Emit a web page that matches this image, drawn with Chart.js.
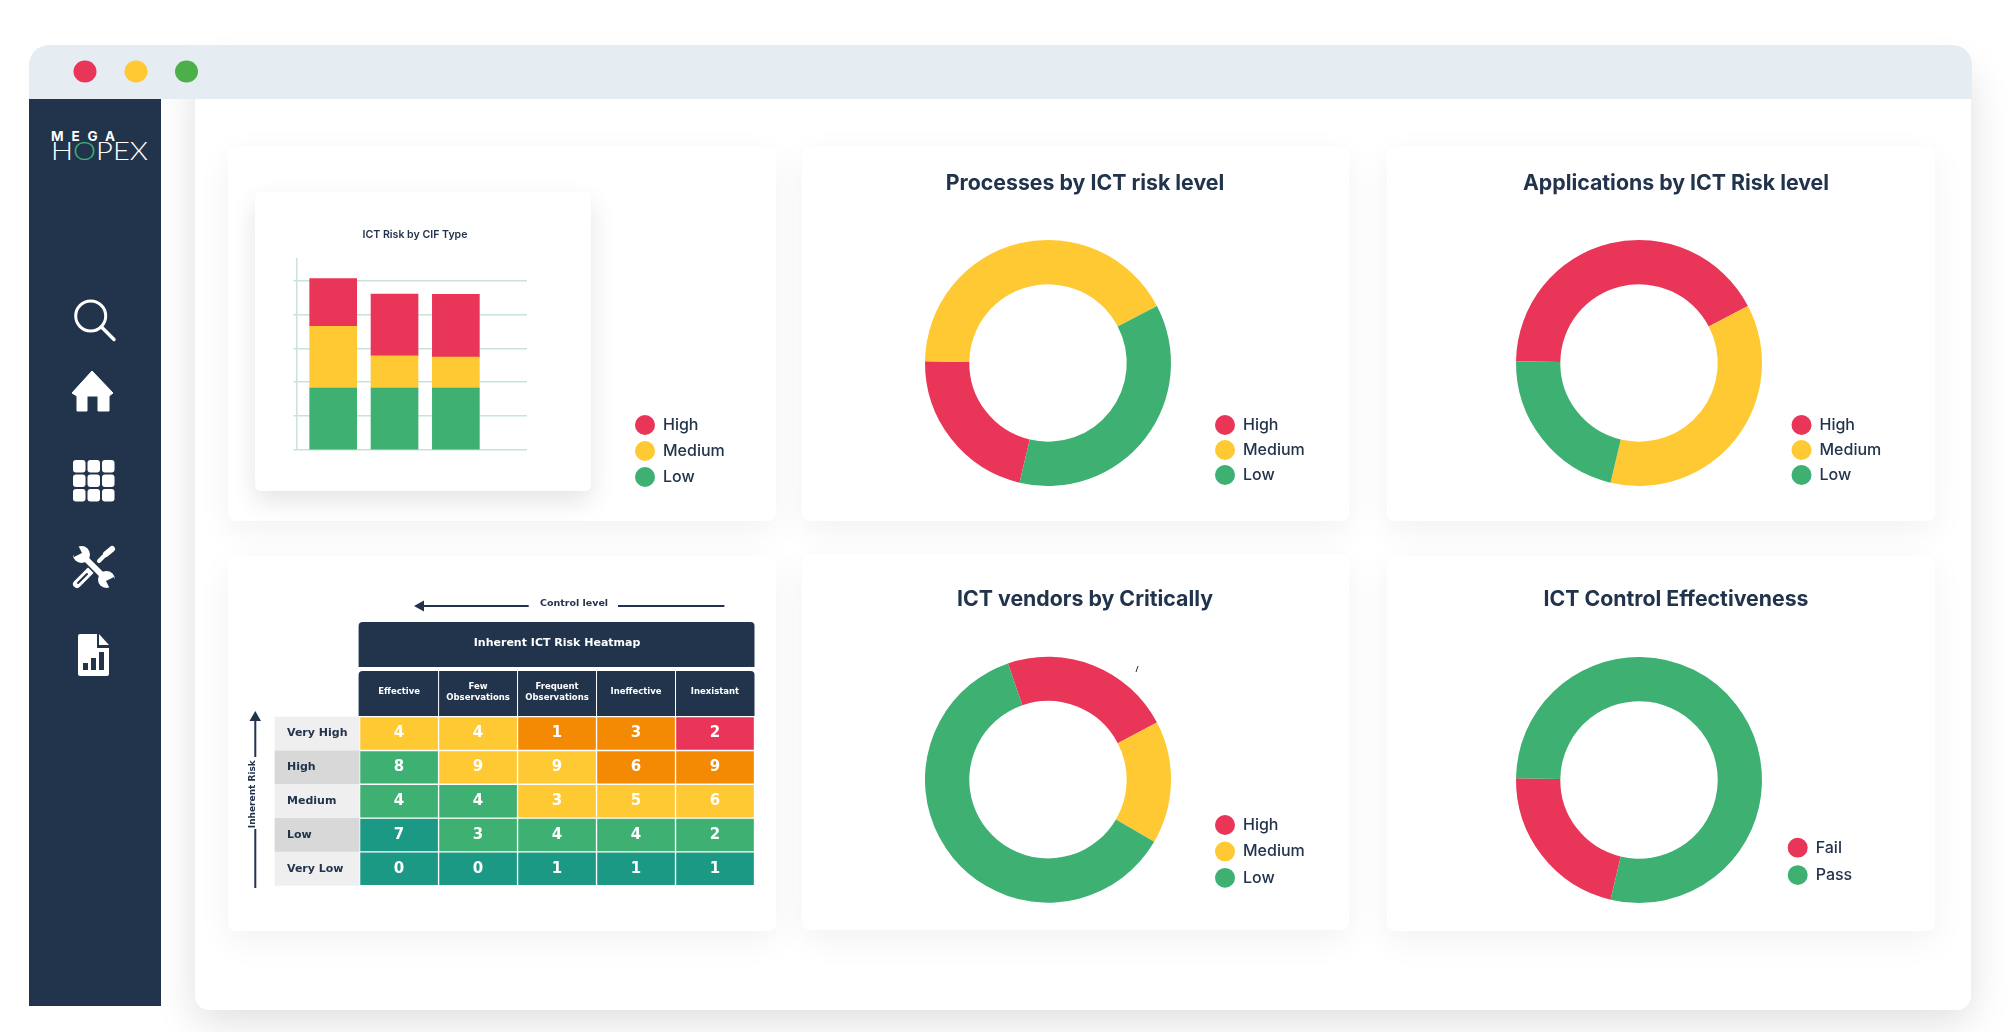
<!DOCTYPE html>
<html>
<head>
<meta charset="utf-8">
<title>ICT risk dashboard</title>
<script src="https://cdn.jsdelivr.net/npm/chart.js@4/dist/chart.umd.min.js"></script>
<style>
html,body{margin:0;padding:0;background:#fff;width:2007px;height:1032px;overflow:hidden;font-family:Inter,sans-serif}
.box{position:absolute;box-sizing:border-box}
#panel{left:195px;top:60px;width:1776px;height:950px;background:#fff;border-radius:14px;box-shadow:0 12px 40px rgba(0,0,0,.13)}
#bar{left:29px;top:45px;width:1943px;height:54px;background:#e5ecf2;border-radius:20px 20px 0 0}
#side{left:29px;top:99px;width:132px;height:907px;background:#22344c}
.card{background:#fff;border-radius:8px;box-shadow:0 10px 34px rgba(0,0,0,.055)}
#inner{left:255px;top:192px;width:336px;height:299px;border-radius:6px;background:#fff;box-shadow:0 10px 26px rgba(0,0,0,.11)}
canvas{position:absolute}
svg{position:absolute;left:0;top:0}
</style>
</head>
<body>
<div class="box" id="panel"></div>
<div class="box" id="bar"></div>
<div class="box" id="side"></div>
<div class="box card" style="left:228px;top:146px;width:548px;height:375px"></div>
<div class="box card" style="left:802px;top:146px;width:547px;height:375px"></div>
<div class="box card" style="left:1387px;top:146px;width:548px;height:375px"></div>
<div class="box card" style="left:228px;top:556px;width:548px;height:375px"></div>
<div class="box card" style="left:802px;top:554px;width:547px;height:376px"></div>
<div class="box card" style="left:1387px;top:556px;width:548px;height:375px"></div>
<div class="box" id="inner"></div>

<svg width="2007" height="1032" viewBox="0 0 2007 1032" style="z-index:3">
  <ellipse cx="85" cy="71.5" rx="11.5" ry="11" fill="#e93557"/>
  <ellipse cx="136" cy="71.5" rx="11.5" ry="11" fill="#ffc933"/>
  <ellipse cx="186.500" cy="71.5" rx="11.5" ry="11" fill="#4bb04a"/>
  <text x="51" y="140.500" fill="#fff" font-family="Inter" font-weight="700" font-size="13.500" textLength="64">MEGA</text>
  <text x="51" y="160" fill="#fff" font-family="Lato" font-weight="300" font-size="25" textLength="97" lengthAdjust="spacingAndGlyphs">H<tspan fill="#3db072">O</tspan>PEX</text>
  <circle cx="90.700" cy="316" r="15" fill="none" stroke="#fff" stroke-width="3"/>
  <line x1="101.500" y1="327" x2="114" y2="339.500" stroke="#fff" stroke-width="3.500" stroke-linecap="round"/>
  <path d="M92 371 L113 393 L109 396 V411 H98 V396 H87 V411 H77 V396 L72 393 Z" fill="#fff" stroke="#fff" stroke-linejoin="round" stroke-width="1"/>
  <g fill="#fff">
    <rect x="73" y="460" width="12.500" height="12.500" rx="3"/><rect x="87.500" y="460" width="12.500" height="12.500" rx="3"/><rect x="102" y="460" width="12.500" height="12.500" rx="3"/>
    <rect x="73" y="474.500" width="12.500" height="12.500" rx="3"/><rect x="87.500" y="474.500" width="12.500" height="12.500" rx="3"/><rect x="102" y="474.500" width="12.500" height="12.500" rx="3"/>
    <rect x="73" y="489" width="12.500" height="12.500" rx="3"/><rect x="87.500" y="489" width="12.500" height="12.500" rx="3"/><rect x="102" y="489" width="12.500" height="12.500" rx="3"/>
  </g>
  <g stroke-linecap="round" fill="none">
    <line x1="77" y1="584" x2="90" y2="571" stroke="#fff" stroke-width="8"/>
    <line x1="78" y1="583" x2="87" y2="574" stroke="#22344c" stroke-width="2"/>
    <line x1="99" y1="561" x2="106" y2="554" stroke="#fff" stroke-width="4"/>
    <line x1="106" y1="554" x2="112" y2="549" stroke="#fff" stroke-width="6"/>
    <line x1="84" y1="557" x2="104" y2="577" stroke="#22344c" stroke-width="9"/>
    <line x1="84" y1="557" x2="104" y2="577" stroke="#fff" stroke-width="6"/>
  </g>
  <circle cx="81.500" cy="554.500" r="8.500" fill="#fff"/>
  <circle cx="106.500" cy="579.500" r="8.500" fill="#fff"/>
  <path d="M78 545 L82 553 L74 557 L70 547 Z" fill="#22344c"/>
  <path d="M110 589 L106 581 L114 577 L118 587 Z" fill="#22344c"/>
  <path d="M80 634 H97 V648 H109 V674 Q109 676 107 676 H80 Q78 676 78 674 V636 Q78 634 80 634 Z" fill="#fff"/>
  <path d="M99 634 L109 645 H99 Z" fill="#fff"/>
  <g fill="#22344c"><rect x="83" y="663" width="5" height="7"/><rect x="91" y="658" width="5" height="12"/><rect x="99" y="652" width="5" height="18"/></g>
  <line x1="1136" y1="672" x2="1138" y2="666" stroke="#22344c" stroke-width="1"/>
  <g stroke="#22344c" stroke-width="2" fill="#22344c">
    <line x1="418" y1="606" x2="528.700" y2="606"/>
    <path d="M414 606 L424 600.500 V611.500 Z" stroke="none"/>
    <line x1="618" y1="606" x2="724.400" y2="606"/>
    <line x1="255.300" y1="716" x2="255.300" y2="757"/>
    <line x1="255.300" y1="829" x2="255.300" y2="888"/>
    <path d="M255.300 711 L249.500 721 H261 Z" stroke="none"/>
  </g>
</svg>

<canvas id="c1" width="470" height="299" style="left:255px;top:192px;z-index:4"></canvas>
<canvas id="c2" width="547" height="375" style="left:802px;top:146px;z-index:4"></canvas>
<canvas id="c3" width="548" height="375" style="left:1387px;top:146px;z-index:4"></canvas>
<canvas id="c4" width="548" height="340" style="left:228px;top:560px;z-index:4"></canvas>
<canvas id="c5" width="547" height="375" style="left:802px;top:554px;z-index:4"></canvas>
<canvas id="c6" width="548" height="375" style="left:1387px;top:556px;z-index:4"></canvas>

<script>
// ---- data ----
const riskLabels = ['High', 'Medium', 'Low'];
const passLabels = ['Fail', 'Pass'];

const barPositions = [1, 2, 3];
const barLow = [1.83, 1.83, 1.83];
const barMedium = [1.82, 0.95, 0.91];
const barHigh = [1.41, 1.82, 1.85];

const processes = [21.5, 42.1, 36.4];
const applications = [42.1, 36.4, 21.5];
const vendors = [22.6, 16.1, 61.3];
const controls = [21.5, 78.5];

const heatColumns = ['Effective', ['Few', 'Observations'], ['Frequent', 'Observations'], 'Ineffective', 'Inexistant'];
const heatRows = ['Very High', 'High', 'Medium', 'Low', 'Very Low'];
const countsVeryHigh = [4, 4, 1, 3, 2];
const countsHigh = [8, 9, 9, 6, 9];
const countsMedium = [4, 4, 3, 5, 6];
const countsLow = [7, 3, 4, 4, 2];
const countsVeryLow = [0, 0, 1, 1, 1];
const levelsVeryHigh = ['Y', 'Y', 'O', 'O', 'R'];
const levelsHigh = ['G', 'Y', 'Y', 'O', 'O'];
const levelsMedium = ['G', 'G', 'Y', 'Y', 'Y'];
const levelsLow = ['T', 'G', 'G', 'G', 'G'];
const levelsVeryLow = ['T', 'T', 'T', 'T', 'T'];

// ---- style ----
const RED = '#e93557', YEL = '#ffc933', GRN = '#3db072', ORG = '#f48a04', TEAL = '#1c9985', NAVY = '#22344c';
const levelColor = {R: RED, Y: YEL, G: GRN, O: ORG, T: TEAL};
const heatFont = '"DejaVu Sans"';
Chart.defaults.font.family = 'Inter';
Chart.defaults.devicePixelRatio = 1;

// moves the library's own legend and title to their places on the page
const placePlugin = {
  id: 'place',
  afterLayout(chart, args, o) {
    const ox = chart.canvas.offsetLeft, oy = chart.canvas.offsetTop;
    const l = chart.legend;
    if (l && o.cx) {
      const pad = l.options.labels.padding;
      l.left = o.cx - ox - 10 - pad;
      l.top = o.cy - oy - 8 - pad;
      l.right = l.left + 120;
      l.bottom = l.top + 140;
    }
    const t = chart.titleBlock;
    if (t && o.titleX) {
      t.left = o.titleX - ox - 200;
      t.right = o.titleX - ox + 200;
    }
  }
};

function legendOptions(padding, reverse) {
  return {
    position: 'chartArea', align: 'start', reverse: !!reverse,
    labels: {usePointStyle: true, pointStyle: 'circle', boxHeight: 14, boxWidth: 14, pointStyleWidth: 20, padding,
      color: NAVY, font: {family: 'Inter', size: 16, weight: '500'}}
  };
}

function donut(id, title, labels, values, colors, rotation, lay, titlePad, place, legPad) {
  new Chart(document.getElementById(id), {
    type: 'doughnut',
    data: {labels, datasets: [{data: values, backgroundColor: colors, borderWidth: 0}]},
    options: {
      responsive: false, animation: false, cutout: '64%', rotation,
      layout: {padding: lay},
      plugins: {
        tooltip: {enabled: false},
        title: {display: true, text: title, color: NAVY, font: {family: 'Inter', size: 21.3, weight: '700'}, padding: titlePad},
        legend: legendOptions(legPad),
        place
      }
    },
    plugins: [placePlugin]
  });
}

// stacked bar
new Chart(document.getElementById('c1'), {
  type: 'bar',
  data: {datasets: [
    {label: 'Low', backgroundColor: GRN, data: barPositions.map((x, i) => ({x, y: barLow[i]}))},
    {label: 'Medium', backgroundColor: YEL, data: barPositions.map((x, i) => ({x, y: barMedium[i]}))},
    {label: 'High', backgroundColor: RED, data: barPositions.map((x, i) => ({x, y: barHigh[i]}))}
  ]},
  options: {
    responsive: false, animation: false,
    datasets: {bar: {barThickness: 47, borderWidth: 0}},
    layout: {padding: {left: 38.4, right: 198, top: 0, bottom: 41}},
    scales: {
      x: {type: 'linear', stacked: true, display: false, min: 0.4, max: 4.16, offset: false},
      y: {stacked: true, min: 0, max: 5.65,
        ticks: {display: false, stepSize: 1},
        afterBuildTicks: s => { s.ticks = s.ticks.filter(t => Number.isInteger(t.value)); },
        grid: {color: '#c9e3d6', lineWidth: 1.5, drawTicks: true, tickLength: 3, tickColor: '#c9e3d6'},
        border: {color: '#c9e3d6', width: 1.5}}
    },
    plugins: {
      tooltip: {enabled: false},
      title: {display: true, text: 'ICT Risk by CIF Type', color: NAVY, font: {family: 'Inter', size: 10.6, weight: '600'},
        padding: {top: 36.4, bottom: 17.4}},
      legend: legendOptions(10, true),
      place: {cx: 645, cy: 425, titleX: 415}
    }
  },
  plugins: [placePlugin]
});

// donuts
donut('c2', 'Processes by ICT risk level', riskLabels, processes, [RED, YEL, GRN], 193.4,
  {left: 123, right: 178, top: 0, bottom: 35}, {top: 24.6, bottom: 43.8}, {cx: 1225, cy: 425, titleX: 1085}, 9);
donut('c3', 'Applications by ICT Risk level', riskLabels, applications, [RED, YEL, GRN], 270.8,
  {left: 129, right: 173, top: 0, bottom: 35}, {top: 24.6, bottom: 43.8}, {cx: 1801.5, cy: 425, titleX: 1676}, 9);
donut('c5', 'ICT vendors by Critically', riskLabels, vendors, [RED, YEL, GRN], 341,
  {left: 123, right: 178, top: 0, bottom: 26.3}, {top: 33.3, bottom: 43.8}, {cx: 1225, cy: 825, titleX: 1085}, 10.4);
donut('c6', 'ICT Control Effectiveness', passLabels, controls, [RED, GRN], 193.4,
  {left: 129, right: 173, top: 0, bottom: 28}, {top: 31.3, bottom: 44.1}, {cx: 1797.7, cy: 847.7, titleX: 1676}, 11.4);

// heatmap: stacked bars, one dataset per row, one unit tall
const heatCounts = [countsVeryHigh, countsHigh, countsMedium, countsLow, countsVeryLow];
const heatLevels = [levelsVeryHigh, levelsHigh, levelsMedium, levelsLow, levelsVeryLow];

const heatPlugin = {
  id: 'heatDecor',
  beforeDraw(chart) {
    const {ctx, chartArea: a, scales: {y}} = chart;
    ctx.save();
    ctx.fillStyle = NAVY;
    ctx.beginPath(); ctx.roundRect(a.left - 1, a.top - 94.7, a.width + 1, 45, [4, 4, 0, 0]); ctx.fill();
    ctx.beginPath(); ctx.roundRect(a.left - 1, a.top - 45.7, a.width + 1, 45, [4, 4, 0, 0]); ctx.fill();
    ctx.strokeStyle = '#ffffff'; ctx.lineWidth = 1;
    for (let i = 1; i < heatColumns.length; i++) {
      const px = a.left + i * a.width / heatColumns.length;
      ctx.beginPath(); ctx.moveTo(px, a.top - 45.7); ctx.lineTo(px, a.top); ctx.stroke();
    }
    heatRows.forEach((r, i) => {
      ctx.fillStyle = i % 2 ? '#d8d8d8' : '#efefef';
      const t = y.getPixelForValue(i), b = y.getPixelForValue(i + 1);
      ctx.fillRect(a.left - 85, t, 85, b - t);
    });
    ctx.restore();
  },
  afterDatasetsDraw(chart) {
    const {ctx} = chart;
    ctx.save();
    ctx.fillStyle = '#fff';
    ctx.font = 'bold 15px ' + heatFont;
    ctx.textAlign = 'center';
    ctx.textBaseline = 'middle';
    chart.data.datasets.forEach((d, i) => {
      chart.getDatasetMeta(i).data.forEach((el, j) => {
        const c = el.getCenterPoint();
        ctx.fillText(String(heatCounts[i][j]), c.x, c.y);
      });
    });
    ctx.restore();
  },
  afterLayout(chart) {
    chart.scales.y2.bottom -= 14;
  }
};

new Chart(document.getElementById('c4'), {
  type: 'bar',
  data: {
    labels: heatColumns,
    datasets: heatRows.map((r, i) => ({
      label: r,
      data: heatCounts[i].map(() => 1),
      backgroundColor: heatLevels[i].map(l => levelColor[l]),
      borderColor: 'rgba(255,255,255,0.8)', borderWidth: 1, borderSkipped: false,
      categoryPercentage: 1, barPercentage: 1
    }))
  },
  options: {
    responsive: false, animation: false,
    layout: {padding: {left: 0, right: 21.5, top: 0, bottom: 14.3}},
    scales: {
      x: {position: 'top', stacked: true,
        grid: {display: false, drawTicks: false}, border: {display: false},
        ticks: {color: '#fff', padding: 19.2, maxRotation: 0, autoSkip: false, crossAlign: 'center',
          font: {family: heatFont, size: 8.5, weight: 'bold', lineHeight: 1.3}},
        title: {display: true, text: 'Inherent ICT Risk Heatmap', color: '#fff',
          font: {family: heatFont, size: 11, weight: 'bold', lineHeight: 1.25}, padding: {top: 13.8, bottom: 6.6}}
      },
      y: {stacked: true, reverse: true, min: 0, max: 5, position: 'left', weight: 0,
        afterBuildTicks: s => { s.ticks = heatRows.map((r, i) => ({value: i + 0.5})); },
        afterFit: s => { s.width = 72.6; },
        grid: {display: false, drawTicks: false}, border: {display: false},
        ticks: {crossAlign: 'far', color: NAVY, padding: 0, autoSkip: false,
          font: {family: heatFont, size: 11, weight: 'bold'},
          callback: v => heatRows[Math.floor(v)]}
      },
      y2: {type: 'linear', position: 'left', weight: 1, min: 0, max: 5, display: true,
        afterFit: s => { s.width = 59; },
        grid: {display: false, drawTicks: false}, border: {display: false}, ticks: {display: false},
        title: {display: true, text: 'Inherent Risk', color: NAVY,
          font: {family: heatFont, size: 9, weight: 'bold', lineHeight: 1.2}, padding: {top: 19, bottom: 0}}
      }
    },
    plugins: {
      legend: {display: false}, tooltip: {enabled: false},
      title: {display: true, text: 'Control level', color: NAVY,
        font: {family: heatFont, size: 9.5, weight: 'bold', lineHeight: 1.2}, padding: {top: 38, bottom: 12.6}},
      place: {titleX: 574}
    }
  },
  plugins: [placePlugin, heatPlugin]
});
</script>
</body>
</html>
